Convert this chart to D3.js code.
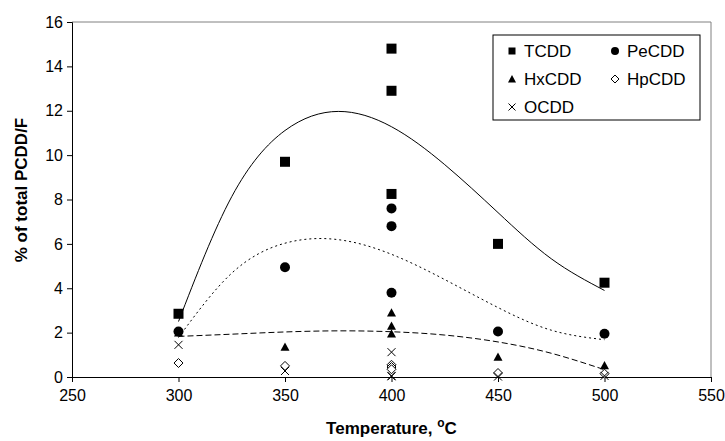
<!DOCTYPE html>
<html><head><meta charset="utf-8">
<script src="https://cdn.jsdelivr.net/npm/d3@7"></script>
<style>
html,body{margin:0;padding:0;background:#fff;}
svg{display:block;font-family:"Liberation Sans",Arial,sans-serif;}
</style></head>
<body><svg id="chart" width="725" height="441"></svg>
<script>
// Data: [temperature, % of total PCDD/F]
const tcdd  = [[300,2.85],[350,9.7],[400,14.8],[400,12.9],[400,8.25],[450,6.0],[500,4.25]];
const pecdd = [[300,2.05],[350,4.95],[400,7.6],[400,6.8],[400,3.8],[450,2.05],[500,1.95]];
const hxcdd = [[300,2.0],[350,1.35],[400,2.9],[400,2.3],[400,1.95],[450,0.9],[500,0.52]];
const hpcdd = [[300,0.63],[350,0.5],[400,0.55],[400,0.45],[400,0.35],[450,0.18],[500,0.15]];
const ocdd  = [[300,1.45],[350,0.27],[400,1.12],[400,0.05],[400,0.03],[450,0.02],[500,0.05]];

// Trend curves
const trendT     = [300,325,350,375,400,425,450,475,500];
const tcddTrend  = [2.50,8.13,11.11,11.97,11.28,9.57,7.41,5.33,3.90];
const pecddTrend = [1.78,4.68,6.03,6.19,5.53,4.39,3.13,2.11,1.68];
const hxcddTrend = [1.83,1.93,2.03,2.08,2.04,1.89,1.58,1.07,0.33];

const xTicks = [250,300,350,400,450,500,550];
const yTicks = [0,2,4,6,8,10,12,14,16];
const legendNames = ["TCDD","PeCDD","HxCDD","HpCDD","OCDD"];

const svg = d3.select("#chart");
const L = 72, R = 711, T = 22, B = 377;
const x = d3.scaleLinear().domain([250,550]).range([L,R]);
const y = d3.scaleLinear().domain([0,16]).range([B,T]);

// plot border (top/right grey)
svg.append("path").attr("d",`M${L},${T}H${R}V${B}`).attr("fill","none").attr("stroke","#808080").attr("stroke-width",1);

// axes
const xAxis = svg.append("g").attr("transform",`translate(0,${B})`)
  .call(d3.axisBottom(x).tickValues(xTicks).tickSize(5).tickPadding(8).tickFormat(d3.format("d")));
const yAxis = svg.append("g").attr("transform",`translate(${L},0)`)
  .call(d3.axisLeft(y).tickValues(yTicks).tickSize(5).tickPadding(4).tickFormat(d3.format("d")));
[xAxis,yAxis].forEach(g=>{
  g.select(".domain").attr("stroke","#000").attr("stroke-width",1);
  g.selectAll(".tick line").attr("stroke","#000");
  g.selectAll("text").attr("fill","#000").style("font-size","16px").style("font-family","'Liberation Sans',Arial,sans-serif");
});
yAxis.selectAll(".tick text").attr("x",-9);

// titles
svg.append("text").attr("x",(L+R)/2).attr("y",434).attr("text-anchor","middle")
  .style("font-size","17px").style("font-weight","bold")
  .html('Temperature, <tspan dy="-7" font-size="12">o</tspan><tspan dy="7">C</tspan>');
svg.append("text").attr("transform",`translate(27,190) rotate(-90)`).attr("text-anchor","middle")
  .style("font-size","17px").style("font-weight","bold").text("% of total PCDD/F");

// trend lines
const line = d3.line().x(d=>x(d[0])).y(d=>y(d[1])).curve(d3.curveNatural);
const trendStyles = [[tcddTrend,null],[pecddTrend,"2,3"],[hxcddTrend,"6,3"]];
trendStyles.forEach(([vals,dash])=>{
  svg.append("path").datum(trendT.map((t,i)=>[t,vals[i]]))
    .attr("d",line).attr("fill","none").attr("stroke","#000").attr("stroke-width",1)
    .attr("stroke-dasharray",dash);
});

// marker drawers
function marker(g, type, cx, cy, s){
  if(type==="square") g.append("rect").attr("x",cx-s/2).attr("y",cy-s/2).attr("width",s).attr("height",s).attr("fill","#000");
  else if(type==="circle") g.append("circle").attr("cx",cx).attr("cy",cy).attr("r",s/2).attr("fill","#000");
  else if(type==="triangle") g.append("path").attr("d",`M${cx},${cy-s/2}L${cx+s/2},${cy+s/2*0.85}L${cx-s/2},${cy+s/2*0.85}Z`).attr("fill","#000");
  else if(type==="diamond") g.append("path").attr("d",`M${cx},${cy-s/2}L${cx+s/2},${cy}L${cx},${cy+s/2}L${cx-s/2},${cy}Z`).attr("fill","#fff").attr("stroke","#000").attr("stroke-width",1);
  else if(type==="x"){ const h=s/2; g.append("path").attr("d",`M${cx-h},${cy-h}L${cx+h},${cy+h}M${cx-h},${cy+h}L${cx+h},${cy-h}`).attr("stroke","#000").attr("stroke-width",1).attr("fill","none"); }
}
const series = [[tcdd,"square",10],[pecdd,"circle",10],[hxcdd,"triangle",9],[hpcdd,"diamond",9],[ocdd,"x",8]];
const pts = svg.append("g");
series.forEach(([data,type,s])=>{
  data.forEach(d=>marker(pts,type,x(d[0]),y(d[1]),s));
});

// legend
const lg = svg.append("g");
lg.append("rect").attr("x",493).attr("y",35).attr("width",207).attr("height",85).attr("fill","#fff").attr("stroke","#000").attr("stroke-width",1);
const legPos = [[512,51],[615,51],[512,79],[615,79],[512,107]];
const legTypes = ["square","circle","triangle","diamond","x"];
const legSizes = [7,8,8,8,7];
legendNames.forEach((n,i)=>{
  const [mx,my]=legPos[i];
  marker(lg,legTypes[i],mx,my,legSizes[i]);
  lg.append("text").attr("x",mx+12).attr("y",my).attr("dy","0.36em").style("font-size","17px").text(n);
});
</script></body></html>
